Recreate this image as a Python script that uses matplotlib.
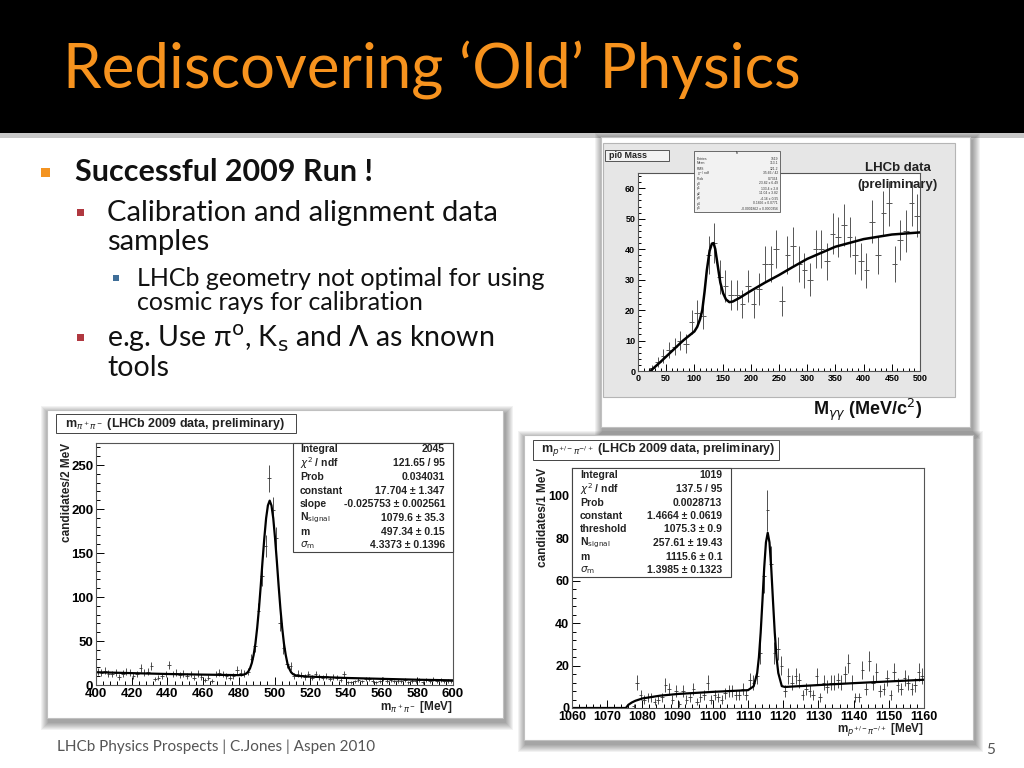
import numpy as np
import matplotlib.pyplot as plt
from matplotlib.patches import Rectangle
from matplotlib.ticker import MultipleLocator

plt.rcParams['font.family'] = ['Liberation Sans', 'DejaVu Sans']
plt.rcParams['mathtext.fontset'] = 'dejavusans'

W, H = 1024, 768

# pi0 -> gamma gamma, 10 MeV bins
pi0_x = np.arange(25, 500, 10)
pi0_n = [1, 3, 5, 7, 8, 10, 9, 16, 19, 18,
         38, 42, 31, 28, 25, 25, 22, 28, 22, 27,
         35, 35, 40, 23, 38, 41, 35, 33, 30, 40,
         40, 36, 45, 44, 48, 44, 38, 36, 33, 49,
         38, 52, 55, 35, 43, 46, 55, 51]
pi0_fit_x = [22, 40, 60, 80, 100, 105, 110, 114, 118, 122, 127, 131, 134, 137, 141,
             146, 151, 156, 162, 168, 180, 200, 225, 250, 275, 300, 350, 400, 450, 500]
pi0_fit_y = [0, 3, 6.5, 10, 13, 14.5, 17, 20, 26, 33, 39.5, 41.8, 42, 40, 35,
             29, 25.5, 23.5, 22.6, 22.8, 24, 26.3, 29, 31.5, 34.2, 36.8, 40.8, 43.3, 44.8, 45.5]
pi0_stats = [('Entries', '1519'), ('Mean', '313.1'), ('RMS', '121.2'),
             (r'$\chi^2$ / ndf', '35.66 / 42'), ('Prob', '0.7364'),
             ('p0', '23.82 ± 6.49'), ('p1', '133.4 ± 2.8'), ('p2', '11.04 ± 3.82'),
             ('p3', '-4.16 ± 0.95'), ('p4', '0.1896 ± 0.0771'),
             ('p5', '-0.0001862 ± 0.0000356')]

# K_s -> pi+ pi-, 2 MeV bins
ks_x = np.arange(401, 600, 2)
ks_n = [15, 14, 16, 13, 12, 14, 9, 13, 15, 14,
        10, 12, 19, 14, 15, 22, 7, 8, 10, 12,
        23, 12, 14, 11, 13, 10, 12, 8, 13, 9,
        6, 8, 5, 12, 14, 12, 10, 8, 10, 17,
        14, 13,
        15, 30, 44, 84, 124, 158, 235, 199, 167, 70, 42, 24, 22, 10,
        13, 11, 9, 12, 8, 12, 9, 8, 10, 7,
        9, 8, 6, 12, 3, 3, 4, 6, 4, 7,
        7, 5, 3, 4, 7, 5, 6, 4, 5, 4,
        6, 3, 5, 4, 6, 3, 6, 5, 7, 5,
        6, 4, 5, 4]
ks_fit_x = [400, 420, 440, 460, 480, 482.3, 484.3, 485.3, 486.3, 487.3, 488.3, 489.3,
            490.3, 491.3, 492.3, 493.3, 494.3, 495.3, 496.3, 497.3, 498.3, 499.3, 500.3,
            501.3, 502.3, 503.3, 504.3, 505.3, 506.3, 507.3, 508.3, 509.3, 510.3, 512.3,
            520, 540, 560, 580, 600]
ks_fit_y = [14.5, 13.5, 12.5, 11.8, 11.2, 11.5, 13.2, 15.3, 19, 25, 34, 47, 65, 87, 113, 141,
            167, 189.5, 204, 209.5, 204, 189.5, 167, 141, 113, 87, 65, 47, 34, 24, 18.5,
            14.5, 12.5, 10.5, 9.5, 8, 7, 6, 5.3]
ks_stats = [('Integral', '2045'), (r'$\chi^2$ / ndf', '121.65 / 95'), ('Prob', '0.034031'),
            ('constant', '17.704 ± 1.347'), ('slope', '-0.025753 ± 0.002561'),
            (r'N$_{\rm signal}$', '1079.6 ± 35.3'), ('m', '497.34 ± 0.15'),
            (r'$\sigma_{\rm m}$', '4.3373 ± 0.1396')]

# Lambda -> p pi, 1 MeV bins
lam_x = np.arange(1060.5, 1160, 1)
lam_n = [0, 0, 0, 0, 0, 0, 0, 0, 0, 0,
         0, 0, 0, 0, 0, 0, 0, 1,
         12, 6, 4, 5, 5, 3, 4, 5, 11, 9, 4, 8, 2, 8, 4, 5, 9, 3, 5, 6, 12, 4,
         6, 5, 4, 7, 8, 8, 6, 6, 9, 6, 13, 12, 15, 26, 62, 93, 68, 26, 28, 20,
         8, 15, 12, 15, 13, 6, 9, 8, 6, 15, 5, 12, 10, 12, 12, 13, 12, 16, 21, 12,
         5, 5, 18, 9, 22, 12, 17, 8, 9, 14, 6, 17, 11, 9, 14, 12, 9, 11, 17, 15]
lam_fit_x = [1060, 1075.3, 1076, 1077, 1078, 1080, 1085, 1090, 1100, 1110, 1111.6,
             1112.6, 1113.1, 1113.6, 1114.1, 1114.6, 1115.1, 1115.6, 1116.1, 1116.6,
             1117.1, 1117.6, 1118.1, 1118.6, 1119.6, 1120.5, 1130, 1140, 1150, 1160]
lam_fit_y = [0, 0, 1.5, 2.6, 3.4, 4.5, 5.8, 6.6, 7.6, 8.4, 10.2, 16.4, 23.9, 35.5, 50.4,
             66, 78, 82.5, 78, 66, 50.4, 35.5, 23.9, 16.5, 10.3, 9.9, 10.8, 11.7, 12.5, 13.3]
lam_stats = [('Integral', '1019'), (r'$\chi^2$ / ndf', '137.5 / 95'), ('Prob', '0.0028713'),
             ('constant', '1.4664 ± 0.0619'), ('threshold', '1075.3 ± 0.9'),
             (r'N$_{\rm signal}$', '257.61 ± 19.43'), ('m', '1115.6 ± 0.1'),
             (r'$\sigma_{\rm m}$', '1.3985 ± 0.1323')]

SLIDE = ['Lato', 'DejaVu Sans']
TXT = '#111111'

fig = plt.figure(figsize=(10.24, 7.68), dpi=100, facecolor='white')
bg = fig.add_axes([0, 0, 1, 1], zorder=0)
fg = fig.add_axes([0, 0, 1, 1], zorder=3)
for a in (bg, fg):
    a.set_xlim(0, W)
    a.set_ylim(H, 0)
    a.axis('off')
fg.patch.set_alpha(0)


def px_axes(x0, y0, x1, y1):
    return fig.add_axes([x0 / W, 1 - y1 / H, (x1 - x0) / W, (y1 - y0) / H], zorder=2)


def panel(x0, y0, x1, y1):
    # soft drop shadow then white picture
    for i in range(8, 0, -1):
        bg.add_patch(Rectangle((x0 - i + 2, y0 - i + 4), x1 - x0 + 2 * i, y1 - y0 + 2 * i,
                               color='black', alpha=0.05, lw=0))
    bg.add_patch(Rectangle((x0, y0), x1 - x0, y1 - y0, facecolor='white',
                           edgecolor='#c0c0c0', lw=0.8))


def root_style(ax, xmaj, xmin, ymaj, ymin, size, tlen=6):
    ax.xaxis.set_major_locator(MultipleLocator(xmaj))
    ax.xaxis.set_minor_locator(MultipleLocator(xmin))
    ax.yaxis.set_major_locator(MultipleLocator(ymaj))
    ax.yaxis.set_minor_locator(MultipleLocator(ymin))
    ax.tick_params(which='both', direction='in', top=False, right=False,
                   labelsize=size, width=0.7, pad=2)
    ax.tick_params(which='major', length=tlen)
    ax.tick_params(which='minor', length=tlen / 2)
    for lab in ax.get_xticklabels() + ax.get_yticklabels():
        lab.set_fontweight('bold')
    for s in ax.spines.values():
        s.set_linewidth(0.8)
        s.set_color('#555555')


def stats_box(rows, x0, y0, x1, y1, xn, xv, ys, size):
    fg.add_patch(Rectangle((x0, y0), x1 - x0, y1 - y0, facecolor='white',
                           edgecolor='#444444', lw=0.8))
    for (name, val), y in zip(rows, ys):
        fg.text(xn, y, name, fontsize=size, fontweight='bold', va='center', ha='left',
                color='#222222')
        fg.text(xv, y, val, fontsize=size, fontweight='bold', va='center', ha='right',
                color='#222222')


# ---- header ----
bg.add_patch(Rectangle((0, 0), W, 133, color='black', lw=0))
bg.add_patch(Rectangle((0, 133), W, 5, color='#c8c8c8', lw=0))
bg.text(63, 70, 'Rediscovering \u2018Old\u2019 Physics', fontsize=44.5, color='#F7931E',
        family=SLIDE, va='center', ha='left')

# ---- bullets ----
bg.add_patch(Rectangle((41, 168), 9, 9, color='#F39321', lw=0))
bg.text(75, 172, 'Successful 2009 Run !', fontsize=22, fontweight='bold', family=SLIDE,
        va='center', color=TXT)
bg.add_patch(Rectangle((77, 209), 6.5, 6.5, color='#B03840', lw=0))
bg.text(107, 213, 'Calibration and alignment data', fontsize=21, family=SLIDE,
        va='center', color=TXT)
bg.text(107, 242, 'samples', fontsize=21, family=SLIDE, va='center', color=TXT)
bg.add_patch(Rectangle((113, 275), 5.5, 5.5, color='#3F6E98', lw=0))
bg.text(137, 278, 'LHCb geometry not optimal for using', fontsize=18, family=SLIDE,
        va='center', color=TXT)
bg.text(137, 303, 'cosmic rays for calibration', fontsize=18, family=SLIDE,
        va='center', color=TXT)
bg.add_patch(Rectangle((77, 334), 6.5, 6.5, color='#B03840', lw=0))
bg.text(107, 338, 'e.g. Use \u03c0$^{\\rm o}$, K$_{\\rm s}$ and \u039b as known',
        fontsize=20.5, family=SLIDE, va='center', color=TXT)
bg.text(107, 368, 'tools', fontsize=20.5, family=SLIDE, va='center', color=TXT)

# ---- footer ----
bg.text(57, 747, 'LHCb Physics Prospects | C.Jones | Aspen 2010', fontsize=11,
        family=SLIDE, va='center', color='#555555')
bg.text(986, 750, '5', fontsize=11, family=SLIDE, va='center', color='#555555')

# ---- pi0 picture ----
panel(601, 137, 970, 427)
bg.add_patch(Rectangle((603, 143), 352, 254, facecolor='#e6e6e6', edgecolor='#b5b5b5', lw=0.8))
ax1 = px_axes(638, 173, 920, 371)
ax1.errorbar(pi0_x, pi0_n, xerr=5, yerr=np.sqrt(pi0_n), fmt='none', ecolor='#555555',
             elinewidth=0.7)
ax1.plot(pi0_fit_x, pi0_fit_y, color='black', lw=1.8)
ax1.set_xlim(0, 500)
ax1.set_ylim(0, 65)
root_style(ax1, 50, 10, 10, 2, 6.5, tlen=5)
fg.add_patch(Rectangle((605, 150), 64, 11, facecolor='#f2f2f2', edgecolor='#555555', lw=0.7))
fg.text(609, 155.5, 'pi0 Mass', fontsize=6.5, fontweight='bold', va='center', color='#222222')
fg.add_patch(Rectangle((694, 151), 86, 61, facecolor='#f2f2f2', edgecolor='#555555', lw=0.6))
fg.text(737, 153.5, 'h', fontsize=2.5, ha='center', va='center')
for i, (name, val) in enumerate(pi0_stats):
    yy = 158.5 + i * 5.0
    fg.text(697, yy, name, fontsize=2.4, va='center', color='#333333')
    fg.text(778, yy, val, fontsize=2.4, va='center', ha='right', color='#333333')
fg.text(898, 168, 'LHCb data', fontsize=9.5, fontweight='bold', ha='center', va='center',
        color='#222222')
fg.text(898, 185, '(preliminary)', fontsize=9.5, fontweight='bold', ha='center', va='center',
        color='#222222')
fg.text(868, 410, r'M$_{\gamma\gamma}$ (MeV/c$^2$)', fontsize=13, fontweight='bold',
        ha='center', va='center', color=TXT)

# ---- K_s picture ----
panel(47, 410, 503, 718)
ax2 = px_axes(96, 443, 453, 685)
ax2.errorbar(ks_x, ks_n, xerr=1, yerr=np.sqrt(ks_n), fmt='none', ecolor='#333333',
             elinewidth=0.6)
ax2.plot(ks_fit_x, ks_fit_y, color='black', lw=1.6)
ax2.set_xlim(400, 600)
ax2.set_ylim(0, 275)
root_style(ax2, 20, 4, 50, 10, 9.5)
fg.add_patch(Rectangle((56, 414), 240, 19, facecolor='white', edgecolor='#444444', lw=0.7))
fg.text(65, 423.5, r'm$_{\pi^+\pi^-}$ (LHCb 2009 data, preliminary)', fontsize=9,
        fontweight='bold', va='center', color='#222222')
fg.text(67, 443, 'candidates/2 MeV', fontsize=8.5, fontweight='bold', rotation=90,
        ha='center', va='top', color='#222222')
fg.text(453, 707, r'm$_{\pi^+\pi^-}$ [MeV]', fontsize=8.5, fontweight='bold', ha='right',
        va='center', color='#222222')
stats_box(ks_stats, 293, 443, 453, 552, 300, 445,
          [449.3, 463.3, 477.3, 490.7, 504, 518.3, 531.7, 545], 7.5)

# ---- Lambda picture ----
panel(524, 435, 973, 740)
ax3 = px_axes(572, 468, 924, 708)
m = np.array(lam_n) > 0
ax3.errorbar(lam_x[m], np.array(lam_n)[m], xerr=0.5, yerr=np.sqrt(np.array(lam_n)[m]),
             fmt='none', ecolor='#333333', elinewidth=0.6)
ax3.plot(lam_fit_x, lam_fit_y, color='black', lw=1.6)
ax3.set_xlim(1060, 1160)
ax3.set_ylim(0, 113)
root_style(ax3, 10, 2, 20, 4, 9)
fg.add_patch(Rectangle((533, 440), 246, 20, facecolor='white', edgecolor='#444444', lw=0.7))
fg.text(541, 450, r'm$_{p^{+/-}\pi^{-/+}}$ (LHCb 2009 data, preliminary)', fontsize=9,
        fontweight='bold', va='center', color='#222222')
fg.text(543, 468, 'candidates/1 MeV', fontsize=8.5, fontweight='bold', rotation=90,
        ha='center', va='top', color='#222222')
fg.text(924, 729, r'm$_{p^{+/-}\pi^{-/+}}$ [MeV]', fontsize=8.5, fontweight='bold',
        ha='right', va='center', color='#222222')
stats_box(lam_stats, 572, 468, 731, 577, 580, 722,
          [475, 489, 503.3, 516, 529.3, 543.3, 556.7, 570], 7.5)

fig.savefig('out.png', dpi=100, facecolor='white')
